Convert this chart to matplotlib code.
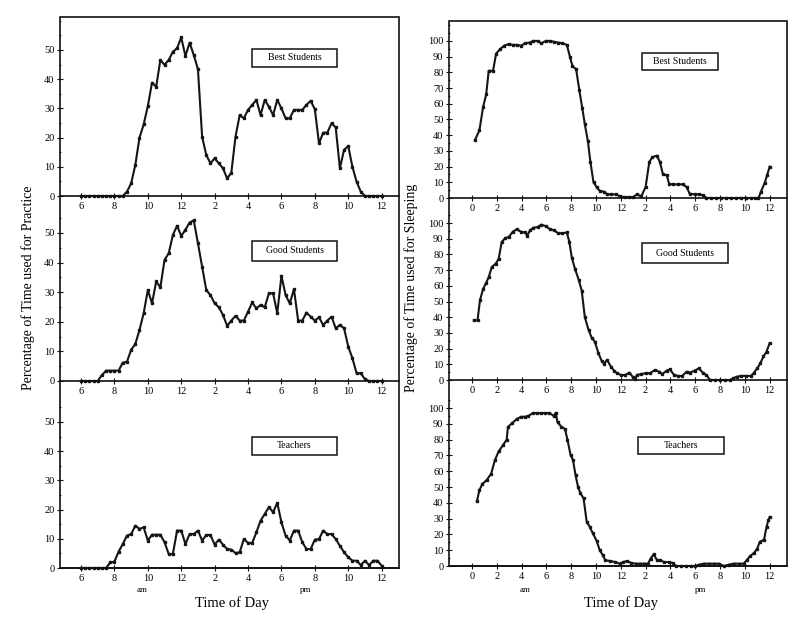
import numpy as np
import matplotlib.pyplot as plt
from matplotlib.patches import Rectangle
from matplotlib.ticker import MultipleLocator

plt.rcParams['font.family'] = ['Liberation Serif', 'DejaVu Serif']

# ---- data ----
# practice panels: one reading every quarter hour, 6 am .. midnight
practice_t = np.arange(6.0, 24.01, 0.25)

best_practice = [
    0, 0, 0, 0, 0, 0, 0, 0, 0, 0, 0,
    1.5, 4.3, 10.6, 20, 24.5, 30.8, 38.8, 37.4, 46.6, 44.9,
    46.6, 49.4, 50.6, 54.3, 47.9, 52.5, 48.3, 43.4, 20.3, 14,
    11.2, 12.9, 11.2, 9.5, 6, 8, 20.3, 27.7, 26.6, 29.5,
    31.2, 32.9, 27.7, 32.9, 30.6, 27.7, 32.9, 30, 26.6, 26.6,
    29.5, 29.5, 29.5, 31.2, 32.6, 29.7, 18, 21.7, 21.7, 24.9,
    23.5, 9.5, 15.8, 17.1, 10, 4.9, 1.5,
    0, 0, 0, 0, 0]

good_practice = [
    0, 0, 0, 0, 0,
    2.0, 3.5, 3.5, 3.5, 3.5, 6.2, 6.5, 10.5, 12.5, 17.2,
    22.9, 30.7, 26.2, 33.6, 31.6, 40.9, 43.1, 49.3, 52.4, 49,
    51, 53.5, 54.2, 46.5, 38.6, 30.7, 29, 26.2, 24.9, 22.3,
    18.6, 20.4, 22, 20.4, 20.4, 23.4, 26.5, 24.5, 25.7, 24.9,
    29.6, 29.6, 22.9, 35.5, 29, 26.2, 31, 20.4, 20.4, 23.1,
    21.7, 20.4, 21.5, 18.9, 20.4, 21.7, 17.8, 18.9, 17.8, 11.6,
    7.7, 2.6, 2.6, 0.6,
    0, 0, 0, 0]

teacher_practice = [
    0, 0, 0, 0, 0, 0, 0,
    1.9, 2.2, 5.6, 8.2, 11.1, 11.6, 14.5, 13.4, 13.9, 9.4,
    11.4, 11.4, 11.4, 8.8, 4.8, 4.8, 12.8, 12.8, 8.2, 11.6,
    11.6, 12.8, 9.4, 11.3, 11.3, 8.0, 9.7, 8.0, 6.5, 6.3,
    5.1, 5.4, 9.9, 8.6, 8.6, 12.2, 16.2, 18.5, 20.8, 19.1,
    22.3, 15.6, 11.1, 9.4, 12.8, 12.8, 8.8, 6.5, 6.5, 9.7,
    9.9, 12.8, 11.6, 11.6, 9.9, 7.6, 5.4, 3.7, 2.5, 2.5,
    1.0, 2.5, 1.0, 2.5, 2.5, 0.8]

# sleeping panels: hour after midnight, percentage
best_sleep_t = [0.25, 0.6, 0.9, 1.15, 1.35, 1.7, 1.95, 2.3, 2.6, 2.95, 3.3, 3.6,
                3.95, 4.3, 4.65, 4.95, 5.3, 5.6, 5.95, 6.3, 6.6, 6.95, 7.3, 7.65,
                7.9, 8.1, 8.4, 8.65, 8.9, 9.1, 9.35, 9.55, 9.8, 10.05, 10.3, 10.65,
                10.9, 11.25, 11.6, 11.95, 12.35, 12.7, 13.0, 13.3, 13.65, 14.0, 14.3,
                14.55, 14.9, 15.15, 15.4, 15.7, 15.9, 16.2, 16.6, 17.0, 17.3, 17.55,
                17.95, 18.3, 18.65, 18.9, 19.3, 19.7, 20.1, 20.5, 20.9, 21.3, 21.7,
                22.1, 22.5, 22.8, 23.1, 23.3, 23.6, 23.8, 24.0]
best_sleep_v = [37, 43, 58, 66, 81, 81, 92, 95, 97, 98, 97.5, 97.5,
                97, 98.5, 99, 100, 100, 98.5, 100, 100, 99.5, 99, 98.5, 97.5,
                90, 84, 82, 69, 57, 47, 36, 23, 10, 7, 4.5, 4,
                2.3, 2.3, 2.3, 1, 0.6, 0.6, 0.6, 2.3, 1, 7, 23,
                26, 27, 23, 15, 14.5, 9, 8.7, 8.7, 8.7, 7, 2.8,
                2.3, 2.3, 1.7, 0, 0, 0, 0, 0, 0, 0, 0,
                0, 0, 0, 0, 4, 9.6, 14.5, 20]

good_sleep_t = [0.15, 0.45, 0.65, 0.9, 1.15, 1.35, 1.6, 1.9, 2.15, 2.4, 2.7, 2.95,
                3.3, 3.6, 3.95, 4.3, 4.45, 4.7, 4.95, 5.3, 5.6, 5.95, 6.3, 6.6,
                6.95, 7.3, 7.65, 7.85, 8.05, 8.3, 8.6, 8.85, 9.1, 9.4, 9.65, 9.9,
                10.2, 10.45, 10.65, 10.9, 11.2, 11.45, 11.7, 12.0, 12.35, 12.7,
                12.95, 13.15, 13.3, 13.65, 14.0, 14.35, 14.75, 15.1, 15.35, 15.7,
                15.95, 16.3, 16.6, 16.95, 17.3, 17.6, 17.95, 18.3, 18.65, 18.9,
                19.2, 19.6, 20.0, 20.4, 20.8, 21.05, 21.35, 21.7, 22.1, 22.5,
                22.7, 23.0, 23.25, 23.5, 23.75, 24.0]
good_sleep_v = [38, 38, 51, 58, 62, 65.5, 72, 74, 77, 88, 90.5, 91,
                94.5, 96, 94.5, 94, 92, 95.5, 97, 97.5, 99, 98, 96, 95.5,
                93.5, 93.5, 94, 88, 78, 71, 64, 57, 40, 32, 27, 24.5,
                17, 12.3, 10.5, 12.8, 8.5, 6, 4.3, 3.2, 3.2, 4.7,
                2.1, 0.4, 3.2, 3.8, 4.3, 4.3, 6.4, 5.3, 3.8, 6,
                6.8, 3.2, 2.6, 2.6, 5.3, 4.7, 6, 7.4, 4.3, 3.2,
                0, 0, 0, 0, 0, 1.1, 2.1, 2.6, 2.6, 2.6,
                4.3, 7.4, 10.6, 15, 18, 23.5]

teacher_sleep_t = [0.4, 0.6, 0.85, 1.2, 1.55, 1.85, 2.15, 2.5, 2.8, 2.9, 3.25, 3.6,
                   3.95, 4.25, 4.55, 4.9, 5.25, 5.55, 5.9, 6.25, 6.6, 6.75, 6.9, 7.2,
                   7.5, 7.7, 7.95, 8.15, 8.35, 8.55, 8.75, 9.0, 9.25, 9.5, 9.75, 10.05,
                   10.3, 10.55, 10.75, 11.15, 11.55, 11.9, 12.2, 12.5, 12.85, 13.2,
                   13.55, 13.85, 14.2, 14.4, 14.65, 14.9, 15.15, 15.5, 15.9, 16.2,
                   16.45, 16.85, 17.25, 17.65, 18.0, 18.3, 18.7, 19.1, 19.5, 19.9,
                   20.3, 20.7, 21.1, 21.5, 21.9, 22.15, 22.4, 22.75, 23.0, 23.2,
                   23.55, 23.75, 23.9, 24.0]
teacher_sleep_v = [41, 48, 52, 54.5, 58.5, 67, 72.5, 76.5, 80, 88, 90.5, 93,
                   94.5, 94.5, 95, 96.8, 96.8, 96.8, 96.8, 96.8, 95, 97, 91, 88.3,
                   86.7, 80, 70.3, 67, 57.6, 50.2, 46, 42.8, 28, 24.8, 20.6, 16,
                   10, 6.8, 3.6, 3.2, 2.5, 1.5, 2.5, 3.2, 1.9, 1.5,
                   1.5, 1.5, 1.5, 4.7, 7.4, 4, 3.6, 2.5, 2.5, 1.9,
                   0, 0, 0, 0, 0, 0.8, 1.5, 1.5, 1.5, 1.5,
                   0, 0.8, 1.5, 1.5, 1.5, 3.6, 6.1, 8.3, 11, 15.3,
                   16.7, 24.8, 29, 31]

groups = ["Best Students", "Good Students", "Teachers"]
practice_series = [best_practice, good_practice, teacher_practice]
sleep_series = [(best_sleep_t, best_sleep_v), (good_sleep_t, good_sleep_v),
                (teacher_sleep_t, teacher_sleep_v)]

practice_xticks = [6, 8, 10, 12, 14, 16, 18, 20, 22, 24]
practice_xlabels = ["6", "8", "10", "12", "2", "4", "6", "8", "10", "12"]
sleep_xticks = [0, 2, 4, 6, 8, 10, 12, 14, 16, 18, 20, 22, 24]
sleep_xlabels = ["0", "2", "4", "6", "8", "10", "12", "2", "4", "6", "8", "10", "12"]

# ---- layout in pixels of the 800x630 picture ----
W, H = 800, 630
fig = plt.figure(figsize=(8, 6.3), dpi=100)
fig.patch.set_facecolor("white")


def px_axes(x0, x1, ytop, yzero):
    ax = fig.add_axes([x0 / W, 1 - yzero / H, (x1 - x0) / W, (yzero - ytop) / H])
    ax.patch.set_alpha(0)
    for s in ["top", "left", "right"]:
        ax.spines[s].set_visible(False)
    ax.spines["bottom"].set_linewidth(1.2)
    ax.spines["bottom"].set_color("#111111")
    return ax


def frame(x0, x1, y0, y1):
    fig.patches.append(Rectangle((x0 / W, 1 - y1 / H), (x1 - x0) / W, (y1 - y0) / H,
                                 transform=fig.transFigure, fill=False,
                                 lw=1.2, ec="#111111"))


def label_box(text, x0, x1, y0, y1):
    fig.patches.append(Rectangle((x0 / W, 1 - y1 / H), (x1 - x0) / W, (y1 - y0) / H,
                                 transform=fig.transFigure, fill=False,
                                 lw=1.1, ec="#111111"))
    fig.text((x0 + x1) / 2 / W, 1 - (y0 + y1) / 2 / H, text, ha="center",
             va="center", fontsize=7)


def style(ax):
    ax.tick_params(axis="both", which="major", direction="inout", length=4,
                   width=0.8, labelsize=7.5, pad=2, color="#111111")
    ax.tick_params(axis="y", which="minor", direction="inout", length=2,
                   width=0.6, color="#111111")
    ax.yaxis.set_minor_locator(MultipleLocator(5))


line_kw = dict(color="#151515", lw=1.5, marker="s", ms=1.8, clip_on=False)

# left column: practice
frame(60, 399, 17, 568)
left_rows = [(17, 196, 61.3), (216, 381, 55.7), (400, 568, 57.5)]
left_boxes = [(252, 337, 49, 67), (252, 337, 241, 261), (252, 337, 437, 455)]
for (ytop, yzero, ymax), vals, name, bx in zip(left_rows, practice_series, groups, left_boxes):
    ax = px_axes(60, 399, ytop, yzero)
    ax.plot(practice_t, vals, **line_kw)
    ax.set_xlim(4.74, 25.04)
    ax.set_ylim(0, ymax)
    ax.set_yticks([0, 10, 20, 30, 40, 50])
    ax.set_xticks(practice_xticks)
    ax.set_xticklabels(practice_xlabels)
    style(ax)
    label_box(name, *bx)

# right column: sleeping
frame(449, 787, 21, 566)
right_rows = [(21, 198, 112.7), (213, 380, 106.4), (397, 566, 107.0)]
right_boxes = [(642, 718, 53, 70), (642, 728, 243, 263), (638, 724, 437, 454)]
for (ytop, yzero, ymax), (t, v), name, bx in zip(right_rows, sleep_series, groups, right_boxes):
    ax = px_axes(449, 787, ytop, yzero)
    ax.plot(t, v, **line_kw)
    ax.set_xlim(-1.85, 25.4)
    ax.set_ylim(0, ymax)
    ax.set_yticks(range(0, 101, 10))
    ax.set_xticks(sleep_xticks)
    ax.set_xticklabels(sleep_xlabels)
    style(ax)
    label_box(name, *bx)

# axis titles
fig.text(28 / W, 1 - 288 / H, "Percentage of Time used for Practice", rotation=90,
         ha="center", va="center", fontsize=10)
fig.text(411 / W, 1 - 288 / H, "Percentage of Time used for Sleeping", rotation=90,
         ha="center", va="center", fontsize=10)
fig.text(232 / W, 1 - 603 / H, "Time of Day", ha="center", va="center", fontsize=10.5)
fig.text(621 / W, 1 - 603 / H, "Time of Day", ha="center", va="center", fontsize=10.5)
fig.text(142 / W, 1 - 590 / H, "am", ha="center", va="center", fontsize=6.5)
fig.text(306 / W, 1 - 590 / H, "pm", ha="center", va="center", fontsize=6.5)
fig.text(525 / W, 1 - 590 / H, "am", ha="center", va="center", fontsize=6.5)
fig.text(701 / W, 1 - 590 / H, "pm", ha="center", va="center", fontsize=6.5)

fig.savefig("out.png", dpi=100, facecolor="white")
